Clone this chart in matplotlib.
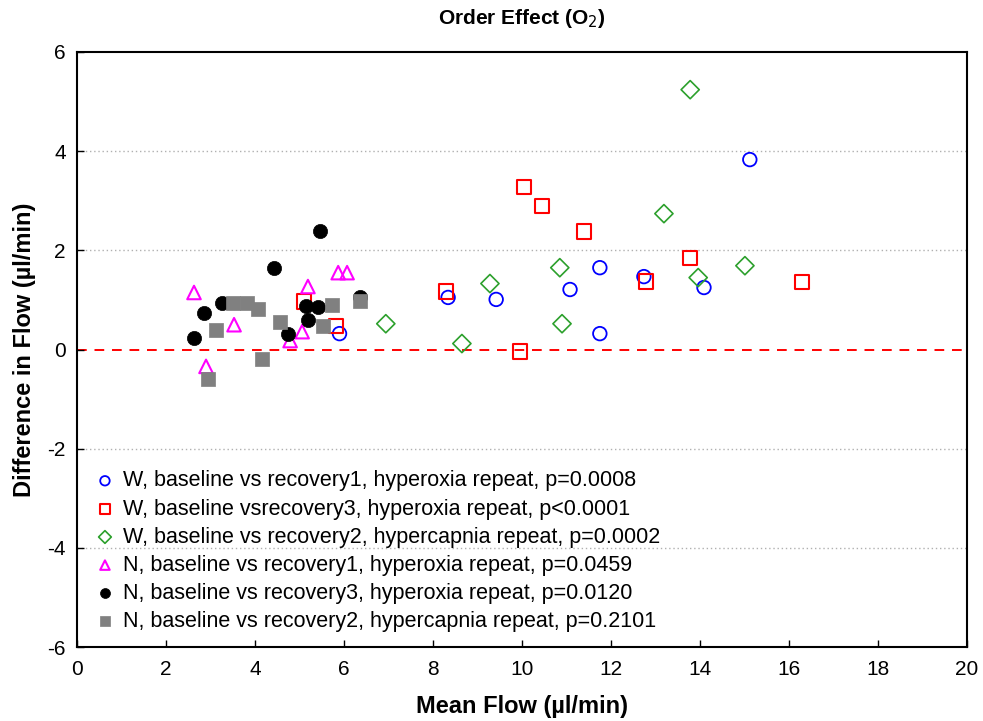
import matplotlib
matplotlib.use("Agg")
import matplotlib.pyplot as plt

plt.rcParams['font.family'] = ['Liberation Sans', 'DejaVu Sans']
plt.rcParams['axes.unicode_minus'] = False

# W, baseline vs recovery1, hyperoxia repeat
w_rec1_x = [5.9, 8.34, 9.42, 11.08, 11.75, 11.75, 12.74, 14.09, 15.12]
w_rec1_y = [0.32, 1.05, 1.01, 1.21, 1.65, 0.32, 1.47, 1.25, 3.83]
# W, baseline vs recovery3, hyperoxia repeat
w_rec3_x = [5.10, 5.82, 8.29, 9.96, 10.04, 10.45, 11.39, 12.79, 13.78, 16.30]
w_rec3_y = [0.97, 0.48, 1.17, -0.04, 3.27, 2.90, 2.38, 1.37, 1.85, 1.36]
# W, baseline vs recovery2, hypercapnia repeat
w_rec2_x = [6.94, 8.65, 9.28, 10.85, 10.90, 13.19, 13.78, 13.96, 15.01]
w_rec2_y = [0.52, 0.12, 1.33, 1.65, 0.52, 2.74, 5.24, 1.45, 1.69]
# N, baseline vs recovery1, hyperoxia repeat
n_rec1_x = [2.63, 2.90, 3.53, 4.79, 5.06, 5.19, 5.87, 6.07]
n_rec1_y = [1.15, -0.34, 0.50, 0.18, 0.36, 1.27, 1.55, 1.55]
# N, baseline vs recovery3, hyperoxia repeat
n_rec3_x = [2.63, 2.85, 3.26, 4.43, 4.74, 5.15, 5.19, 5.42, 5.46, 6.36]
n_rec3_y = [0.24, 0.73, 0.93, 1.65, 0.32, 0.87, 0.60, 0.85, 2.38, 1.05]
# N, baseline vs recovery2, hypercapnia repeat
n_rec2_x = [2.94, 3.12, 3.51, 3.82, 4.07, 4.16, 4.56, 5.53, 5.73, 6.36]
n_rec2_y = [-0.60, 0.40, 0.93, 0.93, 0.81, -0.20, 0.55, 0.48, 0.89, 0.97]

labels = [
    "W, baseline vs recovery1, hyperoxia repeat, p=0.0008",
    "W, baseline vsrecovery3, hyperoxia repeat, p<0.0001",
    "W, baseline vs recovery2, hypercapnia repeat, p=0.0002",
    "N, baseline vs recovery1, hyperoxia repeat, p=0.0459",
    "N, baseline vs recovery3, hyperoxia repeat, p=0.0120",
    "N, baseline vs recovery2, hypercapnia repeat, p=0.2101",
]
x_ticks = [0, 2, 4, 6, 8, 10, 12, 14, 16, 18, 20]
y_ticks = [-6, -4, -2, 0, 2, 4, 6]

fig = plt.figure(figsize=(9.83, 7.21), dpi=100)
ax = fig.add_axes([0.0783, 0.1026, 0.9054, 0.8253])

for yv in [-4, -2, 2, 4]:
    ax.axhline(yv, color='#b0b0b0', lw=1.0, ls=(0, (1, 2)), zorder=0)
ax.axhline(0, color='#ff0000', lw=1.4, ls=(0, (5, 4)), zorder=1)

ms = 95
ax.scatter(w_rec1_x, w_rec1_y, s=ms, marker='o', facecolors='none', edgecolors='#0000ff', linewidths=1.3, label=labels[0], zorder=3)
ax.scatter(w_rec3_x, w_rec3_y, s=ms*1.1, marker='s', facecolors='none', edgecolors='#ff0000', linewidths=1.5, label=labels[1], zorder=3)
ax.scatter(w_rec2_x, w_rec2_y, s=ms*0.9, marker='D', facecolors='none', edgecolors='#2ca02c', linewidths=1.2, label=labels[2], zorder=3)
ax.scatter(n_rec1_x, n_rec1_y, s=ms, marker='^', facecolors='none', edgecolors='#ff00ff', linewidths=1.5, label=labels[3], zorder=3)
ax.scatter(n_rec3_x, n_rec3_y, s=ms*1.1, marker='o', facecolors='black', edgecolors='black', linewidths=0.5, label=labels[4], zorder=3)
ax.scatter(n_rec2_x, n_rec2_y, s=ms*1.2, marker='s', facecolors='#808080', edgecolors='#808080', linewidths=0.5, label=labels[5], zorder=4)

ax.set_xlim(0, 20)
ax.set_ylim(-6, 6)
ax.set_xticks(x_ticks)
ax.set_yticks(y_ticks)
ax.tick_params(direction='in', length=5, width=1, labelsize=15)
ax.tick_params(axis='x', pad=9)
ax.tick_params(axis='y', pad=8)
for sp in ax.spines.values():
    sp.set_linewidth(1.5)

ax.set_xlabel("Mean Flow (\u00b5l/min)", fontsize=17, fontweight='bold', labelpad=12)
ax.set_ylabel("Difference in Flow (\u00b5l/min)", fontsize=17, fontweight='bold', labelpad=8)
ax.set_title("Order Effect (O$_2$)", fontsize=15, fontweight='bold', pad=20)

leg = ax.legend(loc='lower left', frameon=False, fontsize=15.5, handletextpad=0.25,
                labelspacing=0.33, borderaxespad=0.3, scatterpoints=1,
                markerscale=0.7, bbox_to_anchor=(0.0, 0.0), handlelength=1.2)

fig.savefig("out.png", dpi=100)
